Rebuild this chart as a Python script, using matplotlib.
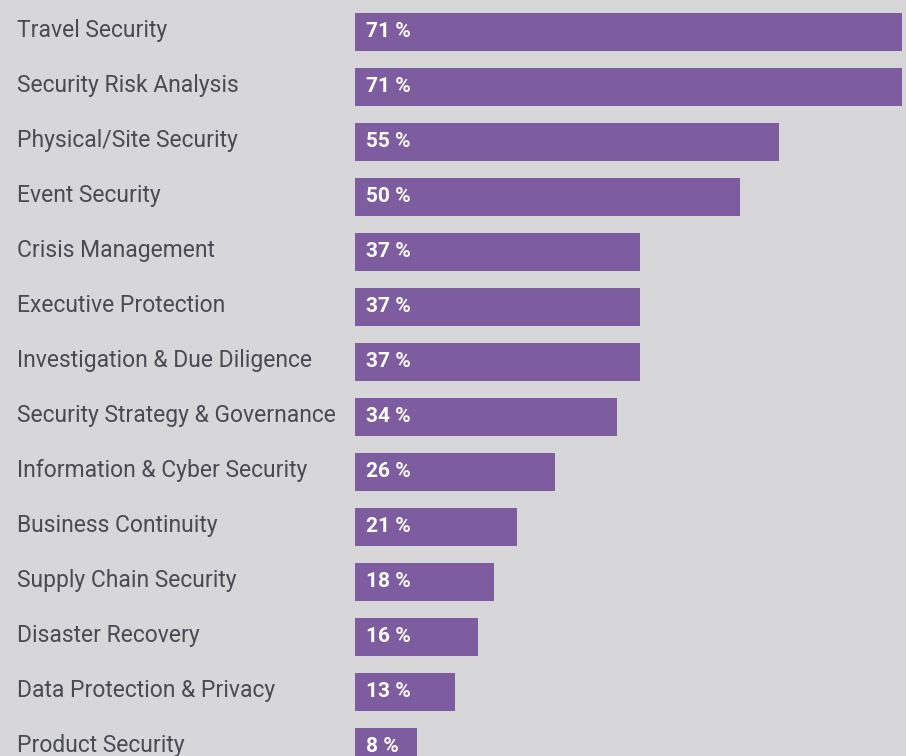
import matplotlib
matplotlib.use("Agg")
import matplotlib.pyplot as plt
import matplotlib.transforms as mtransforms

categories = ["Travel Security", "Security Risk Analysis", "Physical/Site Security",
              "Event Security", "Crisis Management", "Executive Protection",
              "Investigation & Due Diligence", "Security Strategy & Governance",
              "Information & Cyber Security", "Business Continuity",
              "Supply Chain Security", "Disaster Recovery",
              "Data Protection & Privacy", "Product Security"]
values = [71, 71, 55, 50, 37, 37, 37, 34, 26, 21, 18, 16, 13, 8]

bg = "#d7d7d9"
bar_color = "#7d5c9f"
text_color = "#4a4a55"

W, H = 906, 756
fig = plt.figure(figsize=(W / 100, H / 100), dpi=100, facecolor=bg)
left = 355 / W
ax = fig.add_axes([left, 0, 1 - left, 1])
ax.set_facecolor(bg)

px_per_pct = 7.70
pitch = 55.0
y0 = 32.0
ax.set_xlim(0, (W - 355) / px_per_pct)
ax.set_ylim((H - y0) / pitch, -y0 / pitch)

pos = list(range(len(categories)))
ax.barh(pos, values, height=38 / pitch, color=bar_color, edgecolor="none")

trans = mtransforms.blended_transform_factory(fig.transFigure, ax.transData)
for i, (cat, v) in enumerate(zip(categories, values)):
    ax.text(17 / W, i - 0.02, cat, transform=trans, ha="left", va="center",
            fontsize=16.5, color=text_color, family="Roboto")
    ax.text(1.4, i - 0.01, "%d %%" % v, ha="left", va="center",
            fontsize=15, color="white", fontweight="bold", family="Roboto")

ax.axis("off")
fig.savefig("out.png", dpi=100, facecolor=bg)
